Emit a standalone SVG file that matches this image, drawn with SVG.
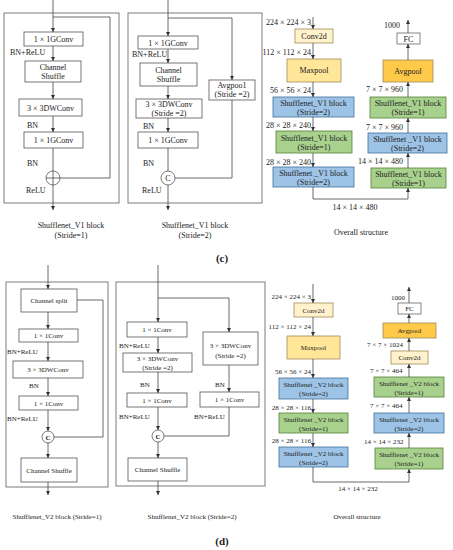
<svg xmlns="http://www.w3.org/2000/svg" width="453" height="550" viewBox="0 0 453 550">
<defs>
<marker id="ah" viewBox="0 0 6 6" refX="6" refY="3" markerWidth="4" markerHeight="4" markerUnits="userSpaceOnUse" orient="auto">
<path d="M0,0 L6,3 L0,6 z" fill="#333"/>
</marker>
</defs>
<style>
text{font-family:"Liberation Serif","Times New Roman",serif;fill:#222}
.t8{font-size:8px}
.t7{font-size:7px}
.t75{font-size:7.5px}
.m{text-anchor:middle}
.e{text-anchor:end}
.frame{fill:none;stroke:#6e6e6e;stroke-width:0.9}
.box{fill:#fff;stroke:#555;stroke-width:0.8}
.ln{fill:none;stroke:#444;stroke-width:0.8}
.arr{fill:none;stroke:#444;stroke-width:0.8;marker-end:url(#ah)}
.blue{fill:#9dc3e6;stroke:#41719c;stroke-width:0.8}
.green{fill:#a9d18e;stroke:#548235;stroke-width:0.8}
.y1{fill:#fff2cc;stroke:#a08c5a;stroke-width:0.8}
.y2{fill:#ffe699;stroke:#a08c5a;stroke-width:0.8}
.y3{fill:#ffc94a;stroke:#a08c5a;stroke-width:0.8}
.fc{fill:#fff;stroke:#666;stroke-width:0.8}
.lab{font-family:"Liberation Serif",serif;font-size:11px;font-weight:bold;text-anchor:middle}
</style>

<!-- ===== Panel (c) : V1 stride 1 ===== -->
<g id="c1-frame"><rect class="frame" x="4" y="13" width="115" height="190"/></g>
<g id="c1-gconv1"><rect class="box" x="24" y="32" width="59" height="14"/><text class="t8 m" x="53.5" y="42">1 × 1GConv</text></g>
<g id="c1-shuffle"><rect class="box" x="25" y="61" width="56" height="21"/><text class="t8 m" x="53" y="70">Channel</text><text class="t8 m" x="53" y="79">Shuffle</text></g>
<g id="c1-dwconv"><rect class="box" x="19" y="99" width="63" height="17"/><text class="t8 m" x="50.5" y="110.5">3 × 3DWConv</text></g>
<g id="c1-gconv2"><rect class="box" x="24" y="132" width="59" height="16"/><text class="t8 m" x="53.5" y="143">1 × 1GConv</text></g>
<g id="c1-add"><circle class="box" cx="53" cy="178" r="7"/><path class="ln" d="M46,178 H60 M53,171 V185"/></g>
<g id="c1-labels">
<text class="t8" x="10" y="55">BN+ReLU</text>
<text class="t8" x="27" y="128">BN</text>
<text class="t8" x="27" y="166">BN</text>
<text class="t8" x="26" y="193">ReLU</text>
<text class="t8 m" x="71" y="228">Shufflenet_V1 block</text>
<text class="t8 m" x="71" y="238">(Stride=1)</text>
</g>

<!-- ===== Panel (c) : V1 stride 2 ===== -->
<g id="c2-frame"><rect class="frame" x="128" y="13" width="134" height="190"/></g>
<g id="c2-gconv1"><rect class="box" x="138" y="36" width="60" height="13"/><text class="t8 m" x="168" y="45.5">1 × 1GConv</text></g>
<g id="c2-shuffle"><rect class="box" x="140" y="63" width="57" height="23"/><text class="t8 m" x="168.5" y="73">Channel</text><text class="t8 m" x="168.5" y="82">Shuffle</text></g>
<g id="c2-dwconv"><rect class="box" x="136" y="99" width="66" height="19"/><text class="t8 m" x="169" y="107">3 × 3DWConv</text><text class="t8 m" x="169" y="116">(Stride =2)</text></g>
<g id="c2-gconv2"><rect class="box" x="138" y="132" width="60" height="16"/><text class="t8 m" x="168" y="143">1 × 1GConv</text></g>
<g id="c2-avgpool"><rect class="box" x="209" y="80" width="46" height="20"/><text class="t8 m" x="232" y="88">Avgpoo1</text><text class="t8 m" x="232" y="97">(Stride =2)</text></g>
<g id="c2-concat"><circle class="box" cx="168" cy="178" r="7"/><text class="t8 m" x="168" y="181">C</text></g>
<g id="c2-labels">
<text class="t8" x="132" y="57">BN+ReLU</text>
<text class="t8" x="143" y="129">BN</text>
<text class="t8" x="143" y="166">BN</text>
<text class="t8" x="142" y="193">ReLU</text>
<text class="t8 m" x="195" y="228">Shufflenet_V1 block</text>
<text class="t8 m" x="195" y="238">(Stride=2)</text>
</g>
<text class="lab" x="222" y="262">(c)</text>

<!-- ===== Panel (c) : Overall structure V1 ===== -->
<g id="c3-conv2d"><rect class="y1" x="295" y="29" width="38" height="14"/><text class="t8 m" x="314" y="39">Conv2d</text></g>
<g id="c3-maxpool"><rect class="y2" x="287" y="59" width="54" height="23"/><text class="t8 m" x="314" y="73">Maxpool</text></g>
<g id="c3-b1"><rect class="blue" x="273" y="97" width="81" height="20"/><text class="t8 m" x="313.5" y="106">Shufflenet_V1 block</text><text class="t8 m" x="313.5" y="115">(Stride=2)</text></g>
<g id="c3-b2"><rect class="green" x="276" y="131" width="76" height="22"/><text class="t8 m" x="314" y="141">Shufflenet_V1 block</text><text class="t8 m" x="314" y="150">(Stride=1)</text></g>
<g id="c3-b3"><rect class="blue" x="273" y="167" width="81" height="20"/><text class="t8 m" x="313.5" y="176">Shufflenet _V1 block</text><text class="t8 m" x="313.5" y="185">(Stride=2)</text></g>
<g id="c3-b4"><rect class="green" x="371" y="168" width="75" height="20"/><text class="t8 m" x="408.5" y="177">Shufflenet_V1 block</text><text class="t8 m" x="408.5" y="186">(Stride=1)</text></g>
<g id="c3-b5"><rect class="blue" x="368" y="133" width="79" height="20"/><text class="t8 m" x="407.5" y="142">Shufflenet _V1 block</text><text class="t8 m" x="407.5" y="151">(Stride=2)</text></g>
<g id="c3-b6"><rect class="green" x="370" y="97" width="76" height="21"/><text class="t8 m" x="408" y="106">Shufflenet_V1 block</text><text class="t8 m" x="408" y="115">(Stride=1)</text></g>
<g id="c3-avgpool"><rect class="y3" x="383" y="60" width="50" height="22"/><text class="t8 m" x="408" y="74">Avgpool</text></g>
<g id="c3-fc"><rect class="fc" x="397" y="33" width="23" height="11"/><text class="t8 m" x="408.5" y="41.5">FC</text></g>
<g id="c3-labels">
<text class="t8 e" x="311" y="25">224 × 224 × 3</text>
<text class="t8 e" x="311" y="55">112 × 112 × 24</text>
<text class="t8 e" x="311" y="93">56 × 56 × 24</text>
<text class="t8 e" x="311" y="128">28 × 28 × 240</text>
<text class="t8 e" x="311" y="165">28 × 28 × 240</text>
<text class="t8 m" x="355" y="210">14 × 14 × 480</text>
<text class="t8" x="358" y="164">14 × 14 × 480</text>
<text class="t8" x="366" y="130">7 × 7 × 960</text>
<text class="t8" x="366" y="92">7 × 7 × 960</text>
<text class="t8" x="384" y="28">1000</text>
<text class="t8 m" x="361" y="235">Overall structure</text>
</g>

<!-- ===== Panel (d) : V2 stride 1 ===== -->
<g id="d1-frame"><rect class="frame" x="6" y="282" width="102" height="205"/></g>
<g id="d1-split"><rect class="box" x="21" y="289" width="56" height="23"/><text class="t7 m" x="49" y="303">Channel split</text></g>
<g id="d1-conv1"><rect class="box" x="19" y="329" width="59" height="13"/><text class="t7 m" x="48.5" y="338">1 × 1Conv</text></g>
<g id="d1-dwconv"><rect class="box" x="13" y="361" width="70" height="17"/><text class="t7 m" x="48" y="372">3 × 3DWConv</text></g>
<g id="d1-conv2"><rect class="box" x="19" y="396" width="59" height="14"/><text class="t7 m" x="48.5" y="405.5">1 × 1Conv</text></g>
<g id="d1-concat"><circle class="box" cx="48" cy="437" r="6"/><text class="t7 m" x="48" y="439.5" font-weight="bold">C</text></g>
<g id="d1-shuffle"><rect class="box" x="21" y="458" width="56" height="24"/><text class="t7 m" x="49" y="472.5">Channel Shuffle</text></g>
<g id="d1-labels">
<text class="t7" x="7" y="354">BN+ReLU</text>
<text class="t7" x="29" y="388">BN</text>
<text class="t7" x="7" y="421">BN+ReLU</text>
<text class="t7 m" x="57" y="519">Shufflenet_V2 block (Stride=1)</text>
</g>

<!-- ===== Panel (d) : V2 stride 2 ===== -->
<g id="d2-frame"><rect class="frame" x="116" y="282" width="149" height="204"/></g>
<g id="d2-conv1"><rect class="box" x="127" y="322" width="60" height="15"/><text class="t7 m" x="157" y="332">1 × 1Conv</text></g>
<g id="d2-dwconv"><rect class="box" x="123" y="353" width="69" height="19"/><text class="t7 m" x="157.5" y="361">3 × 3DWConv</text><text class="t7 m" x="157.5" y="370">(Stride =2)</text></g>
<g id="d2-conv2"><rect class="box" x="127" y="393" width="60" height="14"/><text class="t7 m" x="157" y="402.5">1 × 1Conv</text></g>
<g id="d2-rdwconv"><rect class="box" x="203" y="332" width="55" height="33"/><text class="t7 m" x="230.5" y="348">3 × 3DWConv</text><text class="t7 m" x="230.5" y="358">(Stride =2)</text></g>
<g id="d2-rconv"><rect class="box" x="200" y="392" width="59" height="15"/><text class="t7 m" x="229.5" y="402">1 × 1Conv</text></g>
<g id="d2-concat"><circle class="box" cx="158" cy="436" r="6"/><text class="t7 m" x="158" y="438.5" font-weight="bold">C</text></g>
<g id="d2-shuffle"><rect class="box" x="128" y="458" width="59" height="23"/><text class="t7 m" x="157.5" y="472">Channel Shuffle</text></g>
<g id="d2-labels">
<text class="t7" x="119" y="348">BN+ReLU</text>
<text class="t7" x="140" y="387">BN</text>
<text class="t7" x="119" y="419">BN+ReLU</text>
<text class="t7" x="215" y="387">BN</text>
<text class="t7" x="194" y="419">BN+ReLU</text>
<text class="t7 m" x="192" y="519">Shufflenet_V2 block (Stride=2)</text>
</g>
<text class="lab" x="222" y="545">(d)</text>

<!-- ===== Panel (d) : Overall structure V2 ===== -->
<g id="d3-conv2d"><rect class="y1" x="294" y="303" width="39" height="14"/><text class="t7 m" x="313.5" y="313">Conv2d</text></g>
<g id="d3-maxpool"><rect class="y2" x="287" y="336" width="53" height="23"/><text class="t7 m" x="313.5" y="350">Maxpool</text></g>
<g id="d3-b1"><rect class="blue" x="279" y="378" width="69" height="21"/><text class="t7 m" x="313.5" y="387">Shufflenet _V2 block</text><text class="t7 m" x="313.5" y="396">(Stride=2)</text></g>
<g id="d3-b2"><rect class="green" x="279" y="413" width="69" height="20"/><text class="t7 m" x="313.5" y="422">Shufflenet _V2 block</text><text class="t7 m" x="313.5" y="431">(Stride=1)</text></g>
<g id="d3-b3"><rect class="blue" x="279" y="447" width="69" height="20"/><text class="t7 m" x="313.5" y="456">Shufflenet _V2 block</text><text class="t7 m" x="313.5" y="465">(Stride=2)</text></g>
<g id="d3-b4"><rect class="green" x="375" y="448" width="68" height="21"/><text class="t7 m" x="409" y="457">Shufflenet _V2 block</text><text class="t7 m" x="409" y="466">(Stride=1)</text></g>
<g id="d3-b5"><rect class="blue" x="374" y="413" width="70" height="20"/><text class="t7 m" x="409" y="422">Shufflenet _V2 block</text><text class="t7 m" x="409" y="431">(Stride=2)</text></g>
<g id="d3-b6"><rect class="green" x="374" y="377" width="70" height="20"/><text class="t7 m" x="409" y="386">Shufflenet _V2 block</text><text class="t7 m" x="409" y="395">(Stride=1)</text></g>
<g id="d3-conv2d2"><rect class="y1" x="391" y="351" width="37" height="13"/><text class="t7 m" x="409.5" y="360">Conv2d</text></g>
<g id="d3-avgpool"><rect class="y3" x="383" y="323" width="53" height="15"/><text class="t7 m" x="409.5" y="333">Avgpool</text></g>
<g id="d3-fc"><rect class="fc" x="398" y="303" width="23" height="11"/><text class="t7 m" x="409.5" y="311">FC</text></g>
<g id="d3-labels">
<text class="t7 e" x="311" y="299">224 × 224 × 3</text>
<text class="t7 e" x="311" y="329">112 × 112 × 24</text>
<text class="t7 e" x="311" y="374">56 × 56 × 24</text>
<text class="t7 e" x="311" y="410">28 × 28 × 116</text>
<text class="t7 e" x="311" y="443">28 × 28 × 116</text>
<text class="t7 m" x="358" y="491">14 × 14 × 232</text>
<text class="t7" x="364" y="444">14 × 14 × 232</text>
<text class="t7" x="370" y="408">7 × 7 × 464</text>
<text class="t7" x="370" y="373">7 × 7 × 464</text>
<text class="t7" x="367" y="347">7 × 7 × 1024</text>
<text class="t7" x="391" y="300">1000</text>
<text class="t7 m" x="357" y="519">Overall structure</text>
</g>

<!-- ===== Connectors ===== -->
<g id="connectors">
<!-- c1 -->
<path class="arr" d="M53,0 V32"/>
<path class="arr" d="M53,46 V61"/>
<path class="arr" d="M53,82 V99"/>
<path class="arr" d="M53,116 V132"/>
<path class="ln" d="M53,148 V171"/>
<path class="ln" d="M53,17 H110 V178 H60"/>
<path class="arr" d="M53,185 V210"/>
<!-- c2 -->
<path class="arr" d="M168,0 V36"/>
<path class="arr" d="M168,49 V63"/>
<path class="arr" d="M168,86 V99"/>
<path class="arr" d="M168,118 V132"/>
<path class="ln" d="M168,148 V171"/>
<path class="arr" d="M168,18 H232 V80"/>
<path class="ln" d="M232,100 V178 H175"/>
<path class="arr" d="M168,185 V210"/>
<!-- c3 -->
<path class="arr" d="M313,17 V29"/>
<path class="arr" d="M313,43 V59"/>
<path class="arr" d="M313,82 V97"/>
<path class="arr" d="M313,117 V131"/>
<path class="arr" d="M313,153 V167"/>
<path class="arr" d="M313,187 V199 H408 V188"/>
<path class="arr" d="M408,168 V153"/>
<path class="arr" d="M408,133 V118"/>
<path class="arr" d="M408,97 V82"/>
<path class="arr" d="M408,60 V44"/>
<path class="arr" d="M408,33 V20"/>
<!-- d1 -->
<path class="arr" d="M48,265 V289"/>
<path class="arr" d="M48,312 V329"/>
<path class="arr" d="M48,342 V361"/>
<path class="arr" d="M48,378 V396"/>
<path class="arr" d="M48,410 V431"/>
<path class="ln" d="M77,300 H103 V437 H54"/>
<path class="arr" d="M48,443 V458"/>
<path class="arr" d="M48,482 V495"/>
<!-- d2 -->
<path class="arr" d="M158,265 V322"/>
<path class="arr" d="M158,298 H229 V332"/>
<path class="arr" d="M158,337 V353"/>
<path class="arr" d="M158,372 V393"/>
<path class="arr" d="M158,407 V430"/>
<path class="arr" d="M229,365 V392"/>
<path class="ln" d="M229,407 V436 H164"/>
<path class="arr" d="M158,442 V458"/>
<path class="arr" d="M158,481 V495"/>
<!-- d3 -->
<path class="arr" d="M313,284 V303"/>
<path class="arr" d="M313,317 V336"/>
<path class="arr" d="M313,359 V378"/>
<path class="arr" d="M313,399 V413"/>
<path class="arr" d="M313,433 V447"/>
<path class="arr" d="M313,467 V482 H409 V469"/>
<path class="arr" d="M409,448 V433"/>
<path class="arr" d="M409,413 V397"/>
<path class="arr" d="M409,377 V364"/>
<path class="arr" d="M409,351 V338"/>
<path class="arr" d="M409,323 V314"/>
<path class="arr" d="M409,303 V287"/>
</g>
</svg>
